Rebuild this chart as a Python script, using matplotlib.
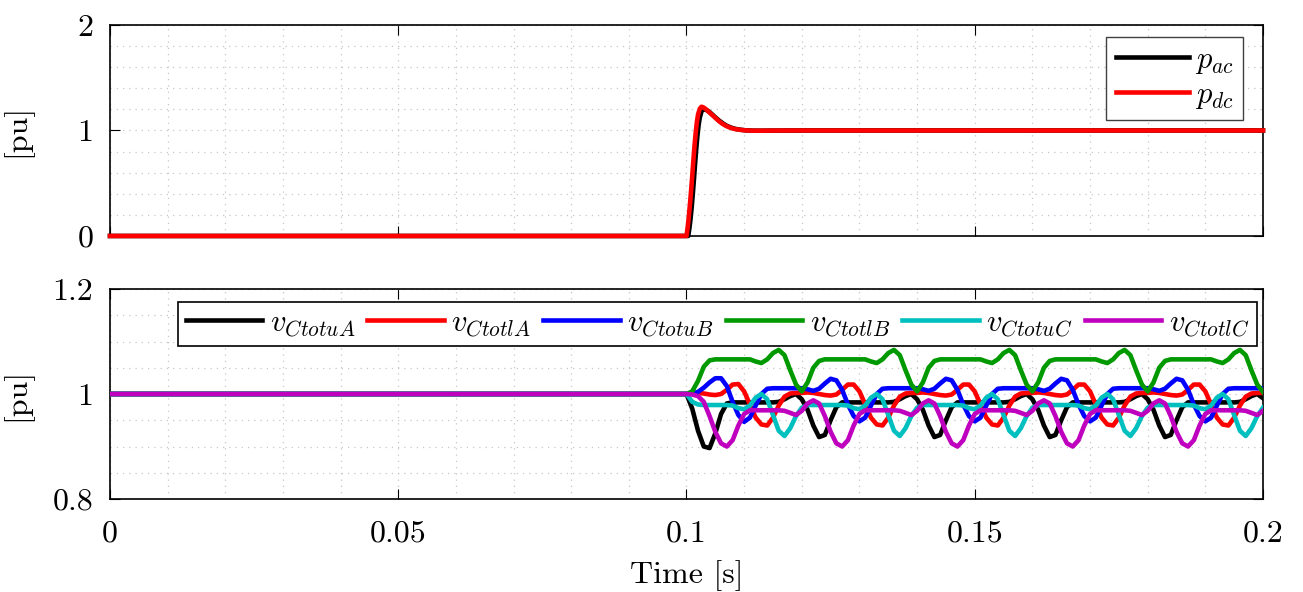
import matplotlib
matplotlib.use('Agg')
import matplotlib.pyplot as plt
import numpy as np
from matplotlib.ticker import MultipleLocator, FixedLocator, FixedFormatter

plt.rcParams['font.family'] = ['cmr10', 'DejaVu Serif']
plt.rcParams['mathtext.fontset'] = 'cm'
plt.rcParams['axes.unicode_minus'] = False

# ---------------- data: top panel (power) ----------------
t_p = [0.0, 0.1000, 0.1002, 0.1004, 0.1006, 0.1008, 0.1010, 0.1012, 0.1014, 0.1016,
       0.1018, 0.1020, 0.1023, 0.1026, 0.1029, 0.1033, 0.1038, 0.1044, 0.1050, 0.1056,
       0.1062, 0.1068, 0.1075, 0.1082, 0.1090, 0.1100, 0.1115, 0.1130, 0.1150, 0.1200, 0.2000]
p_dc = [0.0, 0.0, 0.08, 0.18, 0.30, 0.43, 0.57, 0.72, 0.86, 0.98,
        1.08, 1.15, 1.205, 1.225, 1.220, 1.205, 1.180, 1.150, 1.120, 1.090,
        1.065, 1.045, 1.028, 1.016, 1.008, 1.002, 0.998, 0.998, 0.999, 1.0, 1.0]
t_pac = [0.0, 0.1003, 0.1005, 0.1007, 0.1009, 0.1011, 0.1013, 0.1015, 0.1017, 0.1019,
         0.1021, 0.1023, 0.1026, 0.1029, 0.1032, 0.1036, 0.1041, 0.1046, 0.1052, 0.1058,
         0.1064, 0.1070, 0.1077, 0.1084, 0.1092, 0.1102, 0.1117, 0.1132, 0.1152, 0.1200, 0.2000]
p_ac = [0.0, 0.0, 0.07, 0.16, 0.27, 0.40, 0.54, 0.69, 0.83, 0.95,
        1.05, 1.12, 1.18, 1.205, 1.200, 1.190, 1.170, 1.145, 1.115, 1.088,
        1.064, 1.044, 1.028, 1.016, 1.008, 1.002, 0.998, 0.998, 0.999, 1.0, 1.0]

# ---------------- data: bottom panel (capacitor voltages) ----------------
v_initial = 1.0
t_v = np.linspace(0.1, 0.2, 101)

v_CtotuA = [
    1.000, 0.972, 0.930, 0.900, 0.897, 0.925, 0.962, 0.982, 0.984, 0.984,
    0.984, 0.984, 0.984, 0.984, 0.984, 0.984, 0.985, 0.990, 0.996, 1.000,
    0.990, 0.970, 0.940, 0.918, 0.922, 0.950, 0.975, 0.984, 0.984, 0.984,
    0.984, 0.984, 0.984, 0.984, 0.984, 0.984, 0.985, 0.990, 0.996, 1.000,
    0.990, 0.970, 0.940, 0.918, 0.922, 0.950, 0.975, 0.984, 0.984, 0.984,
    0.984, 0.984, 0.984, 0.984, 0.984, 0.984, 0.985, 0.990, 0.996, 1.000,
    0.990, 0.970, 0.940, 0.918, 0.922, 0.950, 0.975, 0.984, 0.984, 0.984,
    0.984, 0.984, 0.984, 0.984, 0.984, 0.984, 0.985, 0.990, 0.996, 1.000,
    0.990, 0.970, 0.940, 0.918, 0.922, 0.950, 0.975, 0.984, 0.984, 0.984,
    0.984, 0.984, 0.984, 0.984, 0.984, 0.984, 0.985, 0.990, 0.996, 1.000,
    0.992]
v_CtotlA = [
    1.000, 1.001, 1.002, 1.001, 0.999, 0.998, 1.000, 1.008, 1.018, 1.019,
    1.005, 0.980, 0.955, 0.942, 0.940, 0.955, 0.978, 0.995, 1.001, 1.002,
    1.002, 1.003, 1.002, 1.000, 0.998, 0.997, 0.999, 1.008, 1.018, 1.018,
    1.005, 0.980, 0.955, 0.942, 0.940, 0.955, 0.978, 0.995, 1.001, 1.002,
    1.002, 1.003, 1.002, 1.000, 0.998, 0.997, 0.999, 1.008, 1.018, 1.018,
    1.005, 0.980, 0.955, 0.942, 0.940, 0.955, 0.978, 0.995, 1.001, 1.002,
    1.002, 1.003, 1.002, 1.000, 0.998, 0.997, 0.999, 1.008, 1.018, 1.018,
    1.005, 0.980, 0.955, 0.942, 0.940, 0.955, 0.978, 0.995, 1.001, 1.002,
    1.002, 1.003, 1.002, 1.000, 0.998, 0.997, 0.999, 1.008, 1.018, 1.018,
    1.005, 0.980, 0.955, 0.942, 0.940, 0.955, 0.978, 0.995, 1.001, 1.002,
    1.002]
v_CtotuB = [
    1.000, 1.001, 1.004, 1.012, 1.022, 1.030, 1.030, 1.015, 0.985, 0.960,
    0.947, 0.955, 0.978, 1.000, 1.010, 1.011, 1.011, 1.011, 1.011, 1.011,
    1.011, 1.009, 1.006, 1.010, 1.020, 1.029, 1.026, 1.008, 0.980, 0.958,
    0.948, 0.955, 0.978, 1.000, 1.010, 1.011, 1.011, 1.011, 1.011, 1.011,
    1.011, 1.009, 1.006, 1.010, 1.020, 1.029, 1.026, 1.008, 0.980, 0.958,
    0.948, 0.955, 0.978, 1.000, 1.010, 1.011, 1.011, 1.011, 1.011, 1.011,
    1.011, 1.009, 1.006, 1.010, 1.020, 1.029, 1.026, 1.008, 0.980, 0.958,
    0.948, 0.955, 0.978, 1.000, 1.010, 1.011, 1.011, 1.011, 1.011, 1.011,
    1.011, 1.009, 1.006, 1.010, 1.020, 1.029, 1.026, 1.008, 0.980, 0.958,
    0.948, 0.955, 0.978, 1.000, 1.010, 1.011, 1.011, 1.011, 1.011, 1.011,
    1.011]
v_CtotlB = [
    1.000, 1.005, 1.025, 1.052, 1.064, 1.066, 1.066, 1.066, 1.066, 1.066,
    1.066, 1.066, 1.062, 1.059, 1.066, 1.078, 1.084, 1.074, 1.045, 1.018,
    1.005, 1.022, 1.050, 1.063, 1.066, 1.066, 1.066, 1.066, 1.066, 1.066,
    1.066, 1.066, 1.062, 1.059, 1.066, 1.078, 1.084, 1.074, 1.045, 1.018,
    1.005, 1.022, 1.050, 1.063, 1.066, 1.066, 1.066, 1.066, 1.066, 1.066,
    1.066, 1.066, 1.062, 1.059, 1.066, 1.078, 1.084, 1.074, 1.045, 1.018,
    1.005, 1.022, 1.050, 1.063, 1.066, 1.066, 1.066, 1.066, 1.066, 1.066,
    1.066, 1.066, 1.062, 1.059, 1.066, 1.078, 1.084, 1.074, 1.045, 1.018,
    1.005, 1.022, 1.050, 1.063, 1.066, 1.066, 1.066, 1.066, 1.066, 1.066,
    1.066, 1.066, 1.062, 1.059, 1.066, 1.078, 1.084, 1.074, 1.045, 1.018,
    1.004]
v_CtotuC = [
    1.000, 0.985, 0.980, 0.979, 0.979, 0.979, 0.979, 0.979, 0.978, 0.973,
    0.971, 0.978, 0.993, 1.000, 0.990, 0.960, 0.930, 0.920, 0.935, 0.958,
    0.974, 0.979, 0.979, 0.979, 0.979, 0.979, 0.979, 0.979, 0.978, 0.973,
    0.971, 0.978, 0.993, 1.000, 0.990, 0.960, 0.930, 0.920, 0.935, 0.958,
    0.974, 0.979, 0.979, 0.979, 0.979, 0.979, 0.979, 0.979, 0.978, 0.973,
    0.971, 0.978, 0.993, 1.000, 0.990, 0.960, 0.930, 0.920, 0.935, 0.958,
    0.974, 0.979, 0.979, 0.979, 0.979, 0.979, 0.979, 0.979, 0.978, 0.973,
    0.971, 0.978, 0.993, 1.000, 0.990, 0.960, 0.930, 0.920, 0.935, 0.958,
    0.974, 0.979, 0.979, 0.979, 0.979, 0.979, 0.979, 0.979, 0.978, 0.973,
    0.971, 0.978, 0.993, 1.000, 0.990, 0.960, 0.930, 0.920, 0.935, 0.958,
    0.974]
v_CtotlC = [
    1.000, 0.999, 0.996, 0.985, 0.958, 0.928, 0.906, 0.900, 0.912, 0.940,
    0.962, 0.969, 0.969, 0.969, 0.969, 0.969, 0.969, 0.968, 0.964, 0.960,
    0.968, 0.982, 0.988, 0.982, 0.958, 0.928, 0.906, 0.900, 0.912, 0.940,
    0.962, 0.969, 0.969, 0.969, 0.969, 0.969, 0.969, 0.968, 0.964, 0.960,
    0.968, 0.982, 0.988, 0.982, 0.958, 0.928, 0.906, 0.900, 0.912, 0.940,
    0.962, 0.969, 0.969, 0.969, 0.969, 0.969, 0.969, 0.968, 0.964, 0.960,
    0.968, 0.982, 0.988, 0.982, 0.958, 0.928, 0.906, 0.900, 0.912, 0.940,
    0.962, 0.969, 0.969, 0.969, 0.969, 0.969, 0.969, 0.968, 0.964, 0.960,
    0.968, 0.982, 0.988, 0.982, 0.958, 0.928, 0.906, 0.900, 0.912, 0.940,
    0.962, 0.969, 0.969, 0.969, 0.969, 0.969, 0.969, 0.968, 0.964, 0.960,
    0.968]

v_series = [v_CtotuA, v_CtotlA, v_CtotuB, v_CtotlB, v_CtotuC, v_CtotlC]
v_labels = [r'$v_{CtotuA}$', r'$v_{CtotlA}$', r'$v_{CtotuB}$',
            r'$v_{CtotlB}$', r'$v_{CtotuC}$', r'$v_{CtotlC}$']
v_colors = ['#000000', '#ff0000', '#0000ff', '#009900', '#00bfbf', '#bf00bf']

x_ticks = [0, 0.05, 0.1, 0.15, 0.2]
x_ticklabels = ['0', '0.05', '0.1', '0.15', '0.2']
y1_ticks = [0, 1, 2]
y1_ticklabels = ['0', '1', '2']
y2_ticks = [0.8, 1.0, 1.2]
y2_ticklabels = ['0.8', '1', '1.2']

# ---------------- figure ----------------
fig = plt.figure(figsize=(13.03, 5.92), dpi=100)
ax1 = fig.add_axes([0.0844, 0.6014, 0.8849, 0.3564])
ax2 = fig.add_axes([0.0844, 0.1571, 0.8849, 0.3547])

LW = 3.3
FS = 23

ax1.plot(t_pac, p_ac, color='#000000', lw=LW, label=r'$p_{ac}$', clip_on=False, zorder=3)
ax1.plot(t_p, p_dc, color='#ff0000', lw=LW, label=r'$p_{dc}$', clip_on=False, zorder=4)

for vals, lab, col in zip(v_series, v_labels, v_colors):
    ax2.plot(np.concatenate([[0.0], t_v]), np.concatenate([[v_initial], vals]),
             color=col, lw=LW, label=lab, zorder=3)

def style(ax, yticks, yticklabels, ylim, yminor, show_x):
    ax.set_xlim(0, 0.2)
    ax.set_ylim(*ylim)
    ax.xaxis.set_major_locator(FixedLocator(x_ticks))
    ax.xaxis.set_minor_locator(MultipleLocator(0.01))
    ax.yaxis.set_major_locator(FixedLocator(yticks))
    ax.yaxis.set_major_formatter(FixedFormatter(yticklabels))
    ax.yaxis.set_minor_locator(MultipleLocator(yminor))
    if show_x:
        ax.xaxis.set_major_formatter(FixedFormatter(x_ticklabels))
    else:
        ax.set_xticklabels([])
    ax.grid(which='both', linestyle=(0, (1, 4)), color='0.78', linewidth=0.9, zorder=0)
    ax.set_axisbelow(True)
    ax.tick_params(which='major', direction='in', length=7, width=0.8,
                   top=True, right=True, labelsize=FS, pad=12)
    ax.tick_params(which='minor', length=0)
    for sp in ax.spines.values():
        sp.set_linewidth(1.2)
        sp.set_color('black')
    ax.set_ylabel('[pu]', fontsize=FS)
    ax.yaxis.set_label_coords(-0.0677, 0.5)

style(ax1, y1_ticks, y1_ticklabels, (0, 2), 0.2, False)
style(ax2, y2_ticks, y2_ticklabels, (0.8, 1.2), 0.05, True)
ax2.set_xlabel('Time [s]', fontsize=FS, labelpad=9)
ax2.tick_params(axis='x', pad=15)

leg1 = ax1.legend(loc='upper right', bbox_to_anchor=(0.9827, 0.943), borderaxespad=0,
                  fontsize=22, handlelength=2.4, handletextpad=0.2, fancybox=False,
                  framealpha=1, edgecolor='0.25', borderpad=0.3, labelspacing=0.2)
leg1.get_frame().set_linewidth(1.0)

leg2 = ax2.legend(loc='upper right', bbox_to_anchor=(0.9948, 0.938), borderaxespad=0,
                  ncol=6, fontsize=22, handlelength=2.5, handletextpad=0.25,
                  columnspacing=0.4, fancybox=False, framealpha=1, edgecolor='black',
                  borderpad=0.25)
leg2.get_frame().set_linewidth(1.2)

fig.savefig('out.png', dpi=100)
